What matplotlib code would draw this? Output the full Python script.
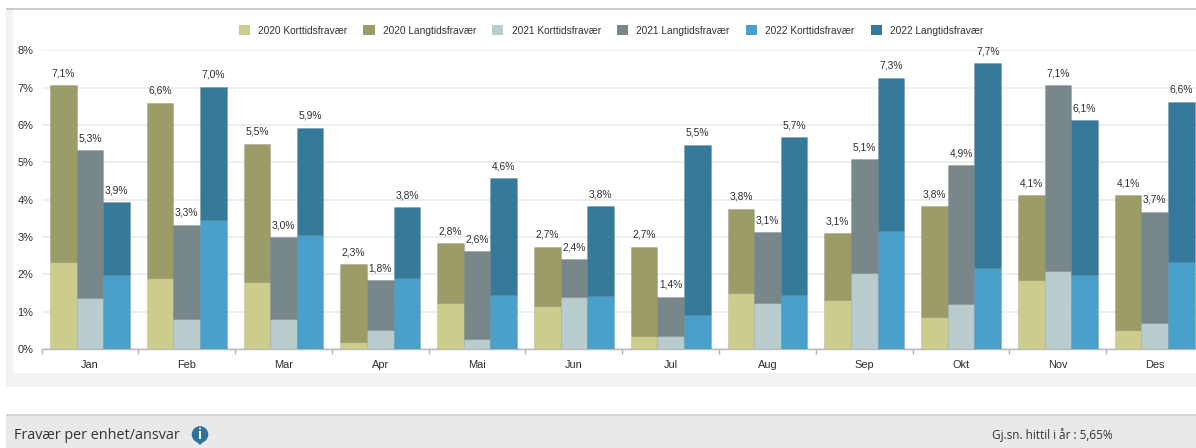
import numpy as np
import matplotlib
matplotlib.use("Agg")
import matplotlib.pyplot as plt
from matplotlib.patches import Rectangle, Circle, Polygon

months = ["Jan", "Feb", "Mar", "Apr", "Mai", "Jun", "Jul", "Aug", "Sep", "Okt", "Nov", "Des"]
short_2020 = [2.33, 1.90, 1.80, 0.20, 1.23, 1.15, 0.35, 1.50, 1.30, 0.85, 1.85, 0.50]
total_2020 = [7.08, 6.60, 5.50, 2.28, 2.83, 2.74, 2.74, 3.76, 3.10, 3.83, 4.12, 4.12]
short_2021 = [1.38, 0.80, 0.80, 0.50, 0.27, 1.40, 0.35, 1.22, 2.05, 1.20, 2.10, 0.70]
total_2021 = [5.33, 3.33, 3.00, 1.84, 2.63, 2.40, 1.40, 3.13, 5.08, 4.92, 7.08, 3.68]
short_2022 = [1.97, 3.45, 3.05, 1.90, 1.45, 1.43, 0.92, 1.45, 3.15, 2.18, 1.97, 2.33]
total_2022 = [3.93, 7.03, 5.93, 3.80, 4.57, 3.83, 5.48, 5.67, 7.27, 7.66, 6.13, 6.63]
years = ["2020", "2021", "2022"]
yticks = [0, 1, 2, 3, 4, 5, 6, 7, 8]

plt.rcParams["font.family"] = ["Liberation Sans", "DejaVu Sans"]
W, H = 1196, 448
fig = plt.figure(figsize=(W / 100, H / 100), dpi=100, facecolor="white")


def px_rect(x0, y0, x1, y1, color):
    fig.add_artist(Rectangle((x0 / W, 1 - y1 / H), (x1 - x0) / W, (y1 - y0) / H,
                             transform=fig.transFigure, fc=color, ec="none", zorder=-5))


px_rect(6, 8, W, 10.5, "#cccccc")
px_rect(6, 10.5, W, 387, "#f3f3f3")
px_rect(13, 10.5, W, 373, "#ffffff")
px_rect(6, 415, W, 448, "#e9e9e9")
px_rect(6, 414, W, 416, "#d4d4d4")

pitch = 96.8
ax = fig.add_axes([41.5 / W, 1 - 349 / H, 12 * pitch / W, 298.5 / H])
ax.patch.set_alpha(0)
ax.set_xlim(0, 12)
ax.set_ylim(0, 8)

x = np.arange(12) + 0.5
w = 26.6 / pitch
styles = [
    (short_2020, total_2020, "#cccc8c", "#9c9c68", -w),
    (short_2021, total_2021, "#b9cdce", "#78878a", 0),
    (short_2022, total_2022, "#48a0cb", "#367a9b", w),
]
for year, (s, t, c1, c2, off) in zip(years, styles):
    s, t = np.array(s), np.array(t)
    ax.bar(x + off, s, w, color=c1, edgecolor="#00000018", linewidth=0.8, zorder=3,
           label=f"{year} Korttidsfravær")
    ax.bar(x + off, t - s, w, bottom=s, color=c2, edgecolor="#00000018", linewidth=0.8, zorder=3,
           label=f"{year} Langtidsfravær")
    for xi, ti in zip(x + off, t):
        ax.annotate(f"{ti:.1f}%".replace(".", ","), (xi, ti), xytext=(0, 8.5),
                    textcoords="offset points", ha="center", va="center",
                    fontsize=7.4, color="#2e2e2e", zorder=5, annotation_clip=False)

ax.set_yticks(yticks)
ax.set_yticklabels([f"{v}%" for v in yticks], fontsize=7.9, color="#2e2e2e")
ax.set_xticks(np.arange(13))
ax.set_xticklabels([])
ax.set_xticks(x, minor=True)
ax.set_xticklabels(months, minor=True, fontsize=7.9, color="#2e2e2e")
ax.tick_params(axis="y", length=0, pad=6)
ax.tick_params(axis="x", which="major", length=3.5, width=1, color="#b0b0b0")
ax.tick_params(axis="x", which="minor", length=0, pad=8.2)
ax.grid(axis="y", color="#ededed", linewidth=1.3, zorder=0)
ax.set_axisbelow(True)
for side in ["top", "right", "left"]:
    ax.spines[side].set_visible(False)
ax.spines["bottom"].set_color("#b8b8b8")
ax.spines["bottom"].set_linewidth(1)

leg = fig.legend(*ax.get_legend_handles_labels(), ncol=6, frameon=False, fontsize=7.3,
                 loc="center", bbox_to_anchor=(611 / W, 1 - 30.5 / H),
                 handlelength=1.1, handleheight=1.15, handletextpad=0.8, columnspacing=1.6,
                 labelcolor="#333333", borderpad=0, borderaxespad=0)
for h in leg.legend_handles:
    h.set_edgecolor("none")

fig.text(14 / W, 1 - 435 / H, "Fravær per enhet/ansvar", fontfamily="Open Sans", fontsize=10.4,
         color="#333333", va="center", ha="left")
fig.text(992 / W, 1 - 435 / H, "Gj.sn. hittil i år : 5,65%", fontfamily="Open Sans", fontsize=8.45,
         color="#333333", va="center", ha="left")

# info icon (drawn in pixel space)
pix = fig.add_axes([0, 0, 1, 1], zorder=10)
pix.set_xlim(0, W)
pix.set_ylim(H, 0)
pix.axis("off")
pix.add_patch(Circle((200, 434.5), 8.3, fc="#2f7199", ec="none"))
pix.add_patch(Polygon([[196, 441], [204, 441], [200, 445]], fc="#2f7199", ec="none"))
pix.text(200, 435, "i", color="white", fontsize=10.5, fontweight="bold", ha="center", va="center")

fig.savefig("out.png", dpi=100)
